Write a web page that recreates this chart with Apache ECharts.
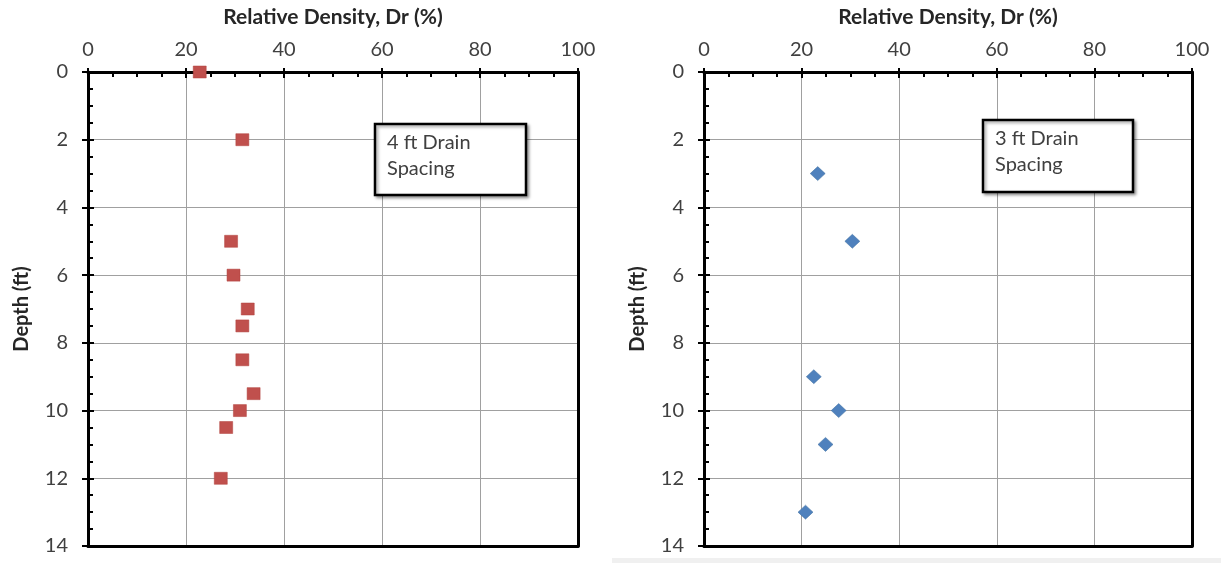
<!DOCTYPE html>
<html>
<head>
<meta charset="utf-8">
<style>
  html, body { margin: 0; padding: 0; background: #ffffff; }
  #chart { width: 1221px; height: 563px; }
</style>
<script src="https://cdn.jsdelivr.net/npm/echarts@6/dist/echarts.min.js"></script>
</head>
<body>
<div id="chart"></div>
<script>
// Relative density profiles with depth for two drain spacings
const densityTicks = [0, 20, 40, 60, 80, 100];
const depthTicks = [0, 2, 4, 6, 8, 10, 12, 14];

// 4 ft drain spacing: depth (ft) and relative density Dr (%)
const depth4ft = [0, 2, 5, 6, 7, 7.5, 8.5, 9.5, 10, 10.5, 12];
const dr4ft = [22.8, 31.5, 29.2, 29.7, 32.6, 31.5, 31.5, 33.8, 31.0, 28.2, 27.1];

// 3 ft drain spacing
const depth3ft = [3, 5, 9, 10, 11, 13];
const dr3ft = [23.3, 30.4, 22.5, 27.6, 24.9, 20.8];

const panelNotes = ['4 ft Drain\nSpacing', '3 ft Drain\nSpacing'];
const xTitle = 'Relative Density, Dr (%)';
const yTitle = 'Depth (ft)';

const FONT = 'Lato, "Open Sans", sans-serif';
const LABEL_COLOR = '#404040';
const GRID_COLOR = '#a0a0a0';

const dMin = densityTicks[0], dMax = densityTicks[densityTicks.length - 1];
const dStep = densityTicks[1] - densityTicks[0];
const zMin = depthTicks[0], zMax = depthTicks[depthTicks.length - 1];
const zStep = depthTicks[1] - depthTicks[0];

const grids = [
  { left: 88, right: 643, top: 72, bottom: 17 },
  { left: 704, right: 29, top: 72, bottom: 17 }
];

const xAxes = [];
const yAxes = [];
grids.forEach((g, i) => {
  // main density axis along the top, with labels and inner ticks
  xAxes.push({
    type: 'value', gridIndex: i, position: 'top',
    min: dMin, max: dMax, interval: dStep,
    name: xTitle, nameLocation: 'middle', nameGap: 44,
    nameTextStyle: { fontFamily: FONT, fontWeight: 'bold', fontSize: 21, color: '#262626' },
    axisLine: { show: true, onZero: false, lineStyle: { color: '#000', width: 3 } },
    axisTick: { show: true, inside: true, length: 6, lineStyle: { color: '#000', width: 2 } },
    minorTick: { show: true, splitNumber: 4, length: 5, lineStyle: { color: '#000', width: 2 } },
    splitLine: { show: true, lineStyle: { color: GRID_COLOR, width: 1 } },
    axisLabel: { fontFamily: FONT, fontSize: 20, color: LABEL_COLOR, margin: 12 }
  });
  // outer part of the major ticks on the density axis
  xAxes.push({
    type: 'value', gridIndex: i, position: 'top',
    min: dMin, max: dMax, interval: dStep,
    axisLine: { show: false, onZero: false },
    axisTick: { show: true, inside: false, length: 4, lineStyle: { color: '#000', width: 2 } },
    splitLine: { show: false }, axisLabel: { show: false }
  });
  // bottom frame line
  xAxes.push({
    type: 'value', gridIndex: i, position: 'bottom',
    min: dMin, max: dMax, interval: dStep,
    axisLine: { show: true, onZero: false, lineStyle: { color: '#000', width: 3 } },
    axisTick: { show: false }, splitLine: { show: false }, axisLabel: { show: false }
  });

  // main depth axis on the left, depth increasing downwards
  yAxes.push({
    type: 'value', gridIndex: i, position: 'left', inverse: true,
    min: zMin, max: zMax, interval: zStep,
    name: yTitle, nameLocation: 'middle', nameGap: 56, nameRotate: 90,
    nameTextStyle: { fontFamily: FONT, fontWeight: 'bold', fontSize: 20, color: '#262626' },
    axisLine: { show: true, onZero: false, lineStyle: { color: '#000', width: 3 } },
    axisTick: { show: true, inside: true, length: 6, lineStyle: { color: '#000', width: 2 } },
    minorTick: { show: true, splitNumber: 4, length: 5, lineStyle: { color: '#000', width: 2 } },
    splitLine: { show: true, lineStyle: { color: GRID_COLOR, width: 1 } },
    axisLabel: { fontFamily: FONT, fontSize: 20, color: LABEL_COLOR, margin: 20 }
  });
  // outer part of the major depth ticks
  yAxes.push({
    type: 'value', gridIndex: i, position: 'left', inverse: true,
    min: zMin, max: zMax, interval: zStep,
    axisLine: { show: false, onZero: false },
    axisTick: { show: true, inside: false, length: 6, lineStyle: { color: '#000', width: 2 } },
    splitLine: { show: false }, axisLabel: { show: false }
  });
  // right frame line
  yAxes.push({
    type: 'value', gridIndex: i, position: 'right', inverse: true,
    min: zMin, max: zMax, interval: zStep,
    axisLine: { show: true, onZero: false, lineStyle: { color: '#000', width: 3 } },
    axisTick: { show: false }, splitLine: { show: false }, axisLabel: { show: false }
  });
});

const pairs = (xs, ys) => xs.map((x, k) => [x, ys[k]]);

const series = [
  {
    type: 'scatter', xAxisIndex: 0, yAxisIndex: 0,
    data: pairs(dr4ft, depth4ft),
    symbol: 'rect', symbolSize: [13, 12],
    itemStyle: { color: '#C0504D', opacity: 1, borderColor: '#B0403D', borderWidth: 0.5 },
    z: 5
  },
  {
    type: 'scatter', xAxisIndex: 3, yAxisIndex: 3,
    data: pairs(dr3ft, depth3ft),
    symbol: 'diamond', symbolSize: [15, 14],
    itemStyle: { color: '#4F81BD', opacity: 1, borderColor: '#3F6E9F', borderWidth: 0.5 },
    z: 5
  }
];

// note boxes inside each panel
const noteBoxes = [
  { x: 375, y: 124, w: 151, h: 71 },
  { x: 983, y: 120, w: 150, h: 72 }
];
const graphic = [];
noteBoxes.forEach((b, i) => {
  graphic.push({
    type: 'rect', z: 100,
    shape: { x: b.x, y: b.y, width: b.w, height: b.h },
    style: {
      fill: '#ffffff', stroke: '#000000', lineWidth: 2.5,
      shadowBlur: 3, shadowOffsetX: 2, shadowOffsetY: 2, shadowColor: 'rgba(0,0,0,0.35)'
    }
  });
  graphic.push({
    type: 'text', z: 101,
    x: b.x + 12, y: b.y + 6,
    style: {
      text: panelNotes[i], fill: '#404040',
      font: '20px ' + FONT, lineHeight: 26
    }
  });
});
// light strip along the lower edge of the right panel
graphic.push({
  type: 'rect', z: 0,
  shape: { x: 612, y: 558, width: 609, height: 5 },
  style: { fill: '#f0f0f0' }
});

const chart = echarts.init(document.getElementById('chart'), null, { renderer: 'canvas' });
chart.setOption({
  animation: false,
  backgroundColor: '#ffffff',
  grid: grids,
  xAxis: xAxes,
  yAxis: yAxes,
  series: series,
  graphic: graphic
});
</script>
</body>
</html>
